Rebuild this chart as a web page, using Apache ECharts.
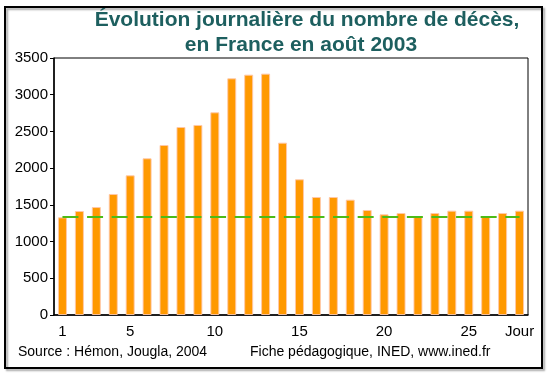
<!DOCTYPE html>
<html>
<head>
<meta charset="utf-8">
<script src="https://cdn.jsdelivr.net/npm/echarts@6/dist/echarts.min.js"></script>
<style>
  html, body { margin: 0; padding: 0; background: #fff; }
  #chart { width: 550px; height: 377px; }
</style>
</head>
<body>
<div id="chart"></div>
<script>
var days = [];
for (var d = 1; d <= 28; d++) days.push(String(d));
var deaths = [1330, 1416, 1470, 1648, 1902, 2134, 2315, 2560, 2588, 2760,
              3223, 3273, 3287, 2347, 1848, 1607, 1607, 1571, 1430, 1371,
              1389, 1345, 1389, 1421, 1421, 1345, 1389, 1421];
var baseline = days.map(function () { return 1335; });
var shownLabels = ['1', '5', '10', '15', '20', '25'];
var lastLabel = 'Jour';
var yTicks = [0, 500, 1000, 1500, 2000, 2500, 3000, 3500];

var dom = document.getElementById('chart');
var myChart = echarts.init(dom);

var font = '"Liberation Sans", Arial, sans-serif';
var titleStyle = {
    color: '#1d5f5f',
    fontSize: 21,
    fontWeight: 'bold',
    fontFamily: font
};

option = {
    backgroundColor: '#fff',
    animation: false,
    textStyle: { fontFamily: font },
    title: [
        {
            text: 'Évolution journalière du nombre de décès,',
            left: 307,
            top: 10,
            textAlign: 'center',
            padding: 0,
            textStyle: titleStyle
        },
        {
            text: 'en France en août 2003',
            left: 301,
            top: 35,
            textAlign: 'center',
            padding: 0,
            textStyle: titleStyle
        }
    ],
    grid: {
        left: 54,
        right: 22,
        top: 58,
        bottom: 62,
        show: true,
        borderColor: '#000',
        borderWidth: 1
    },
    xAxis: {
        type: 'category',
        data: days,
        axisLine: { lineStyle: { color: '#000', width: 1.5 } },
        axisTick: { show: false },
        axisLabel: {
            interval: 0,
            color: '#000',
            fontSize: 15,
            margin: 9,
            formatter: function (v, i) {
                if (i === days.length - 1) return lastLabel;
                return shownLabels.indexOf(v) >= 0 ? v : '';
            }
        }
    },
    yAxis: {
        type: 'value',
        min: yTicks[0],
        max: yTicks[yTicks.length - 1],
        interval: 500,
        axisLine: { show: true, lineStyle: { color: '#000', width: 1.5 } },
        axisTick: { show: true, length: 4, lineStyle: { color: '#000' } },
        splitLine: { show: false },
        axisLabel: {
            color: '#000',
            fontSize: 15,
            margin: 6,
            formatter: function (v) { return String(v); }
        }
    },
    series: [
        {
            type: 'bar',
            data: deaths,
            barWidth: 9,
            itemStyle: {
                color: '#ff9900',
                borderColor: 'rgba(255,200,170,0.9)',
                borderWidth: 1
            },
            z: 2
        },
        {
            type: 'line',
            data: baseline,
            symbol: 'none',
            lineStyle: { color: '#4cbb17', width: 2, type: [16, 8.6] },
            z: 3
        }
    ],
    graphic: [
        {
            type: 'rect',
            shape: { x: 5, y: 7, width: 537, height: 361 },
            style: {
                fill: 'none',
                stroke: '#000',
                lineWidth: 2,
                shadowColor: 'rgba(0,0,0,0.35)',
                shadowOffsetX: 2,
                shadowOffsetY: 2,
                shadowBlur: 2
            },
            z: 0
        },
        {
            type: 'text',
            left: 18,
            top: 345,
            style: { text: 'Source : Hémon, Jougla, 2004', fill: '#000', font: '14px ' + font }
        },
        {
            type: 'text',
            left: 250,
            top: 345,
            style: { text: 'Fiche pédagogique, INED, www.ined.fr', fill: '#000', font: '14px ' + font }
        }
    ]
};

myChart.setOption(option);
</script>
</body>
</html>
